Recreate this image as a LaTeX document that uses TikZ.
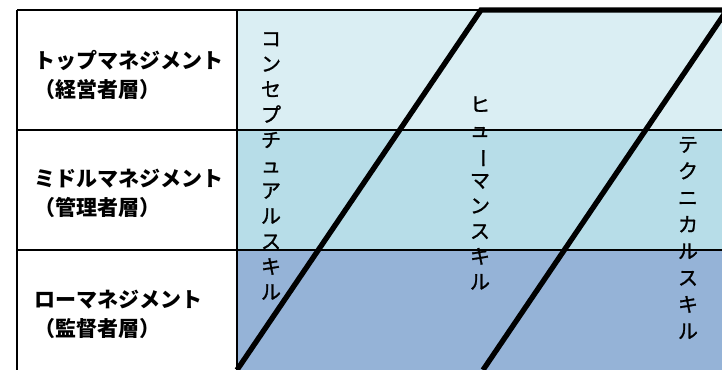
\documentclass[tikz,border=0pt]{standalone}
\usepackage{fontspec}
\usepackage{graphicx}
\setmainfont{Noto Sans CJK JP}
\newfontfamily\skillfont[FakeBold=1.2]{Noto Sans CJK JP}
\definecolor{topband}{HTML}{DAEEF3}
\definecolor{midband}{HTML}{B7DDE8}
\definecolor{lowband}{HTML}{95B3D7}
\newcommand{\vbar}{\rotatebox[origin=c]{-90}{ー}}
\tikzset{
  layer/.style={anchor=west, align=left, inner sep=0pt,
    font=\bfseries\fontsize{15.75}{21.75}\selectfont},
  skill/.style={align=center, inner sep=0pt, font=\skillfont\fontsize{15}{#1}\selectfont},
  skill/.default=19pt,
  rule/.style={line width=1.5pt},
  bold line/.style={line width=4pt, miter limit=10}
}
\begin{document}
\begin{tikzpicture}[x=0.75pt, y=-0.75pt]
    \useasboundingbox (0,0) rectangle (722,370);
    \clip (0,0) rectangle (722,370);

    \fill[topband] (237,10) rectangle (722,130);
    \fill[midband] (237,130) rectangle (722,250);
    \fill[lowband] (237,250) rectangle (722,370);

    \draw[rule] (17,10) -- (481,10);
    \draw[rule] (17,10) -- (17,370);
    \draw[rule] (237,10) -- (237,370);
    \draw[rule] (17,130) -- (722,130);
    \draw[rule] (17,250) -- (722,250);

    \draw[bold line] (237,370) -- (481,10) -- (727,10) -- (483,370);

    \node[layer] (top) at (34,75) {トップマネジメント\\（経営者層）};
    \node[layer] (middle) at (34,193) {ミドルマネジメント\\（管理者層）};
    \node[layer] (lower) at (34,314) {ローマネジメント\\（監督者層）};

    \node[skill] (concept) at (271,166) {コ\\ン\\セ\\プ\\チ\\ュ\\ア\\ル\\ス\\キ\\ル};
    \node[skill] (human) at (480,193) {ヒ\\ュ\\\vbar\\マ\\ン\\ス\\キ\\ル};
    \node[skill=20pt] (tech) at (688,238) {テ\\ク\\ニ\\カ\\ル\\ス\\キ\\ル};
\end{tikzpicture}
\end{document}
